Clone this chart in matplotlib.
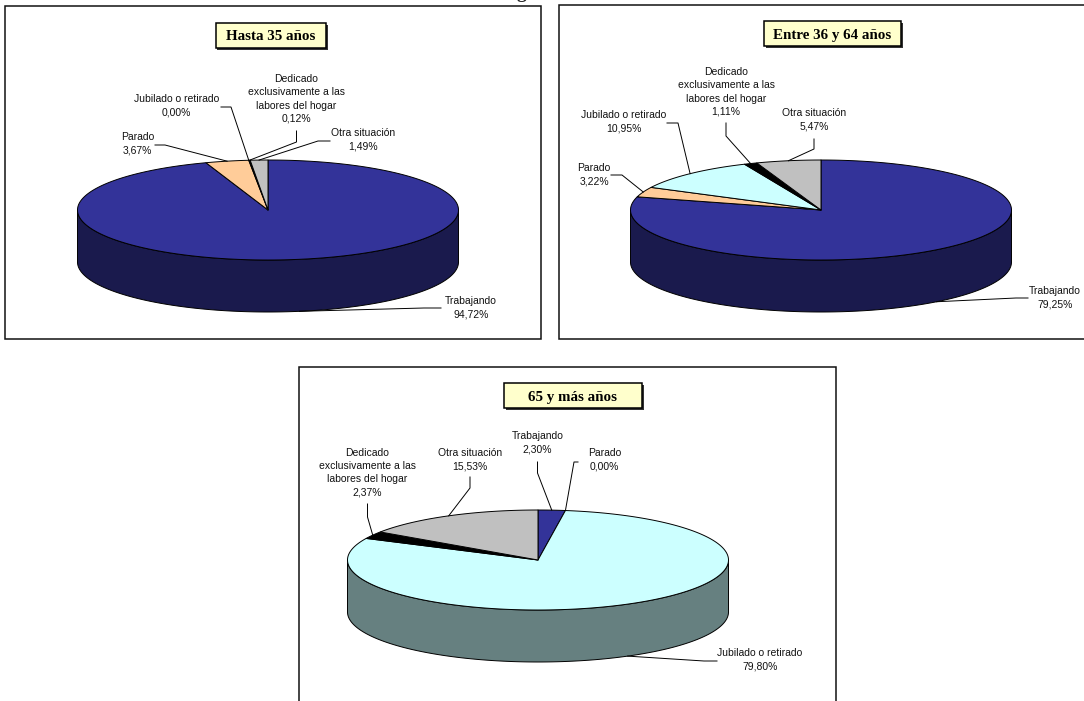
import numpy as np
import matplotlib
matplotlib.use("Agg")
import matplotlib.pyplot as plt
from matplotlib.colors import to_rgb
from matplotlib.patches import Polygon, Rectangle

CATEGORIES = ["Trabajando", "Parado", "Jubilado o retirado",
              "Dedicado\nexclusivamente a las\nlabores del hogar", "Otra situación"]
COLORS = ["#333399", "#FFCC99", "#CCFFFF", "#000000", "#C0C0C0"]

TITLES = ["Hasta 35 años", "Entre 36 y 64 años", "65 y más años"]
VALUES_35 = [94.72, 3.67, 0.00, 0.12, 1.49]
VALUES_36_64 = [79.25, 3.22, 10.95, 1.11, 5.47]
VALUES_65 = [2.30, 0.00, 79.80, 2.37, 15.53]

# frame, title box, pie centre
LAYOUT = [
    {"frame": (5, 6, 541, 339), "title": (215.5, 23, 326, 48), "center": (268, 210)},
    {"frame": (559, 5, 1090, 339), "title": (764, 21, 901, 46), "center": (821, 210)},
    {"frame": (299, 367, 836, 710), "title": (504, 383, 642, 408), "center": (538, 560)},
]
# per category: label centre, then the leader's outer end and its elbow
LABELS = [
    [((471, 308), (441, 308), (424, 308)), ((137.6, 144), (155, 145), (165, 145)),
     ((176.6, 106), (221, 107), (231, 107)), ((296.5, 99), (296.5, 131), (296.5, 142)),
     ((363, 140), (330, 141), (318, 141))],
    [((1055, 298), (1028, 298), (1016, 298)), ((594, 175), (611, 175), (622, 175)),
     ((624, 122), (667, 123), (678, 123)), ((726, 92), (726, 123), (726, 136)),
     ((814, 120), (814, 139), (814, 149))],
    [((537.5, 443), (537.5, 462), (537.5, 473)), ((604.6, 459.5), (578, 462), (574, 462)),
     ((760, 659.5), (717, 661), (704, 661)), ((367.5, 472.7), (367.5, 504), (367.5, 517)),
     ((470, 459.5), (470, 477), (470, 488))],
]
RX, RY, DEPTH = 190.5, 50, 52


def rim(center, start, stop, drop=0):
    """Points of the pie rim, angles in degrees clockwise from 12 o'clock."""
    t = np.radians(np.linspace(start, stop, max(2, int(abs(stop - start)) + 2)))
    return np.column_stack([center[0] + RX * np.sin(t), center[1] - RY * np.cos(t) + drop])


def draw_pie(ax, values, center):
    angles = np.concatenate([[0], np.cumsum(values)]) * 3.6
    # the wall is only visible on the front half of the disc
    for i, color in enumerate(COLORS):
        start, stop = max(angles[i], 90), min(angles[i + 1], 270)
        if stop > start:
            pts = np.vstack([rim(center, start, stop), rim(center, stop, start, DEPTH)])
            dark = tuple(c * 0.5 for c in to_rgb(color))
            ax.add_patch(Polygon(pts, fc=dark, ec="black", lw=0.7, joinstyle="round"))
    for i, color in enumerate(COLORS):
        if values[i] > 0:
            pts = np.vstack([[center], rim(center, angles[i], angles[i + 1])])
            ax.add_patch(Polygon(pts, fc=color, ec="black", lw=0.7, joinstyle="round"))
    return angles


def leader_anchor(center, mid):
    x, y = rim(center, mid, mid)[0]
    return (x, y + DEPTH) if 90 < mid < 270 else (x, y)


fig = plt.figure(figsize=(10.84, 7.01), dpi=100)
ax = fig.add_axes([0, 0, 1, 1])
ax.set_xlim(0, 1084)
ax.set_ylim(701, 0)
ax.axis("off")

# bottom of the heading above the panels, cut by the page edge
ax.text(521, -2.5, "g", family="Liberation Serif", weight="bold", fontsize=14,
        ha="center", va="baseline", color="#222222")

for title, values, layout, labels in zip(TITLES, [VALUES_35, VALUES_36_64, VALUES_65], LAYOUT, LABELS):
    x0, y0, x1, y1 = layout["frame"]
    ax.add_patch(Rectangle((x0, y0), x1 - x0, y1 - y0, fc="white", ec="#111111", lw=1.1))

    x0, y0, x1, y1 = layout["title"]
    ax.add_patch(Rectangle((x0 + 1.5, y0 + 1.5), x1 - x0, y1 - y0, fc="#333333", ec="none"))
    ax.add_patch(Rectangle((x0, y0), x1 - x0, y1 - y0, fc="#FFFFCC", ec="black", lw=1.1))
    ax.text((x0 + x1) / 2, (y0 + y1) / 2, title, family="Liberation Serif", weight="bold",
            fontsize=10.8, ha="center", va="center_baseline", color="black")

    center = layout["center"]
    angles = draw_pie(ax, values, center)

    for i, name in enumerate(CATEGORIES):
        text_pos, outer, elbow = labels[i]
        anchor = leader_anchor(center, (angles[i] + angles[i + 1]) / 2)
        ax.plot(*zip(outer, elbow, anchor), color="black", lw=0.7, solid_joinstyle="round")
        label = f"{name}\n{values[i]:.2f}%".replace(".", ",")
        ax.text(*text_pos, label, family="Liberation Sans", fontsize=7.5, ha="center",
                va="center", linespacing=1.38, color="#111111")

fig.savefig("out.png", dpi=100)
